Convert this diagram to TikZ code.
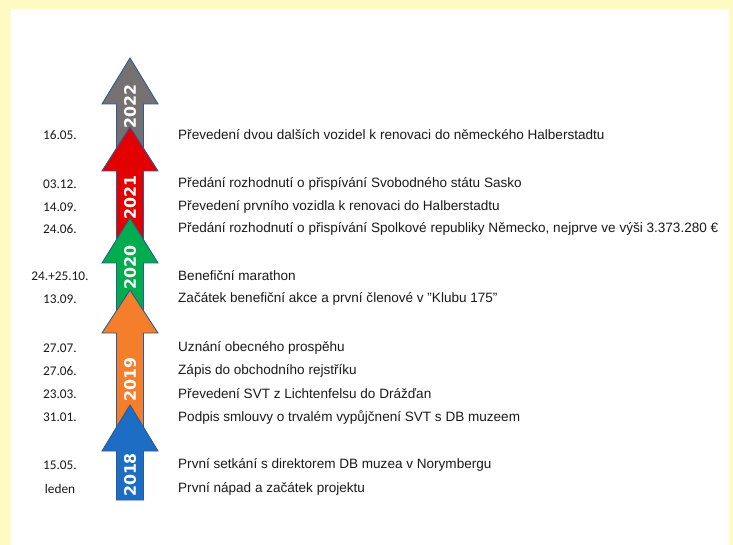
\documentclass[tikz,border=0pt]{standalone}
\usepackage{fontspec}
\setmainfont{Liberation Sans}
\newfontfamily\datefont{Carlito}
\newfontfamily\yearfont{DejaVu Sans}
\definecolor{pagebg}{HTML}{FFF9C4}
\definecolor{arrowline}{HTML}{2F5A94}
\definecolor{cgrey}{HTML}{767171}
\definecolor{cred}{HTML}{E20000}
\definecolor{cgreen}{HTML}{00AD4E}
\definecolor{corange}{HTML}{F47E2A}
\definecolor{cblue}{HTML}{1C6DC3}
\definecolor{txt}{HTML}{1A1A1A}
\tikzset{
  datelabel/.style={inner sep=0pt, anchor=center, text=txt, font=\datefont\fontsize{13.3}{15}\selectfont},
  eventlabel/.style={inner sep=0pt, anchor=west, text=txt, font=\fontsize{13.55}{15}\selectfont},
  yearlabel/.style={inner sep=0pt, rotate=90, text=white, font=\yearfont\bfseries\fontsize{15.8}{17}\selectfont},
  yeararrow/.style={draw=arrowline, line width=0.9pt, line join=miter}
}
% one block arrow of the time line: fill, tip y, head base y, shaft bottom y
\newcommand\timearrow[4]{%
  \fill[#1] (116.5,#4) -- (116.5,#3) -- (102,#3) -- (130,#2) -- (158,#3)
     -- (143.5,#3) -- (143.5,#4) -- cycle;
  \draw[yeararrow] (116.5,#4) -- (116.5,#3) -- (102,#3) -- (130,#2) -- (158,#3)
     -- (143.5,#3) -- (143.5,#4) -- cycle;
}
\begin{document}
\begin{tikzpicture}[x=1pt,y=-1pt]
\useasboundingbox (0,0) rectangle (733,545);
\fill[pagebg] (0,0) rectangle (733,545);
\fill[white] (11,9) rectangle (729,545);

% time line, drawn top to bottom so each head covers the shaft above it
\timearrow{cgrey}{58}{104}{150}
\node[yearlabel] (y2022) at (130,107) {2022};
\timearrow{cred}{127}{171}{245}
\node[yearlabel] (y2021) at (130,198) {2021};
\timearrow{cgreen}{218}{263}{315}
\node[yearlabel] (y2020) at (130,268) {2020};
\timearrow{corange}{290}{333}{430}
\node[yearlabel] (y2019) at (130,380) {2019};
\timearrow{cblue}{405}{451}{500}
\node[yearlabel] (y2018) at (130,475) {2018};

% dates
\node[datelabel] (d1)  at (60,135) {16.05.};
\node[datelabel] (d2)  at (60,184) {03.12.};
\node[datelabel] (d3)  at (60,207) {14.09.};
\node[datelabel] (d4)  at (60,229) {24.06.};
\node[datelabel] (d5)  at (60,276) {24.+25.10.};
\node[datelabel] (d6)  at (60,299) {13.09.};
\node[datelabel] (d7)  at (60,348) {27.07.};
\node[datelabel] (d8)  at (60,371) {27.06.};
\node[datelabel] (d9)  at (60,394) {23.03.};
\node[datelabel] (d10) at (60,417) {31.01.};
\node[datelabel] (d11) at (60,465) {15.05.};
\node[datelabel] (d12) at (60,489) {leden};

% events
\node[eventlabel] (e1)  at (178,135) {Převedení dvou dalších vozidel k renovaci do německého Halberstadtu};
\node[eventlabel] (e2)  at (178,184) {Předání rozhodnutí o přispívání Svobodného státu Sasko};
\node[eventlabel] (e3)  at (178,207) {Převedení prvního vozidla k renovaci do Halberstadtu};
\node[eventlabel] (e4)  at (178,229) {Předání rozhodnutí o přispívání Spolkové republiky Německo, nejprve ve výši 3.373.280 €};
\node[eventlabel] (e5)  at (178,276) {Benefiční marathon};
\node[eventlabel] (e6)  at (178,299) {Začátek benefiční akce a první členové v \symbol{34}Klubu 175\symbol{34}};
\node[eventlabel] (e7)  at (178,348) {Uznání obecného prospěhu};
\node[eventlabel] (e8)  at (178,371) {Zápis do obchodního rejstříku};
\node[eventlabel] (e9)  at (178,394) {Převedení SVT z Lichtenfelsu do Drážďan};
\node[eventlabel] (e10) at (178,417) {Podpis smlouvy o trvalém vypůjčnení SVT s DB muzeem};
\node[eventlabel] (e11) at (178,465) {První setkání s direktorem DB muzea v Norymbergu};
\node[eventlabel] (e12) at (178,489) {První nápad a začátek projektu};
\end{tikzpicture}
\end{document}
